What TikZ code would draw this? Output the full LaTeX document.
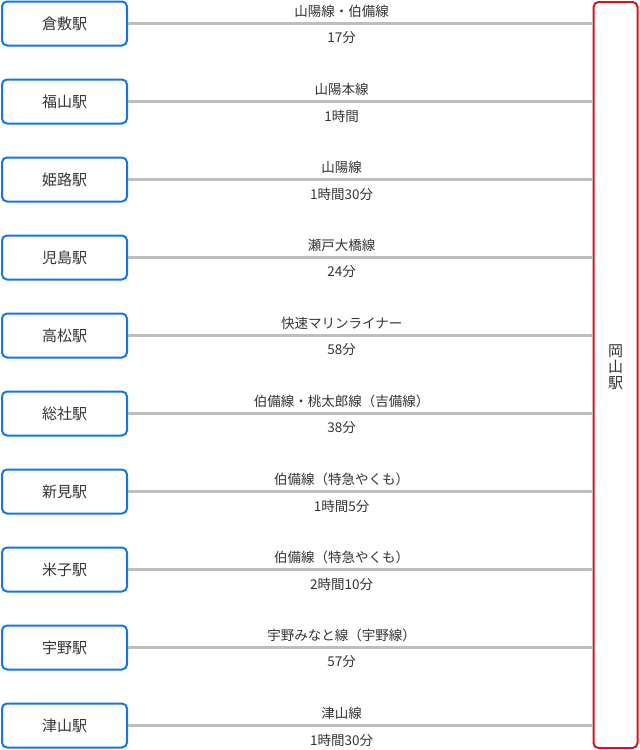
\documentclass[tikz,border=0pt]{standalone}
\usepackage{fontspec}
\newfontfamily\jpfont{Noto Sans CJK JP}
\usetikzlibrary{positioning}
\definecolor{stblue}{RGB}{20,118,226}
\definecolor{stred}{RGB}{214,20,28}
\definecolor{lngray}{RGB}{190,190,190}
\definecolor{txgray}{RGB}{51,51,51}
\tikzset{
    station/.style = {rectangle, rounded corners=5pt, line width=2pt, draw=stblue, minimum width=125pt, minimum height=44pt, text=txgray, font=\jpfont\fontsize{15}{18}\selectfont},
    hub/.style = {rectangle, rounded corners=5pt, line width=2pt, draw=stred, minimum width=44pt, minimum height=746pt, text=txgray},
    hubtext/.style = {align=center, text=txgray, font=\jpfont\fontsize{15}{16}\selectfont},
    line/.style = {line width=3pt, lngray},
    route/.style = {pos=0.46, above=1pt, text=txgray, font=\jpfont\fontsize{13.5}{15}\selectfont},
    time/.style = {pos=0.46, below=3.5pt, text=txgray, font=\jpfont\fontsize{13.5}{15}\selectfont}
}
\begin{document}
\begin{tikzpicture}[x=1pt,y=-1pt]
\useasboundingbox (0,0) rectangle (640,750);
%
\node[station] at (64.5, 23.5) (kurashiki) {倉敷駅};
\node[station] at (64.5,101.5) (fukuyama) {福山駅};
\node[station] at (64.5,179.5) (himeji) {姫路駅};
\node[station] at (64.5,257.5) (kojima) {児島駅};
\node[station] at (64.5,335.5) (takamatsu) {高松駅};
\node[station] at (64.5,413.5) (soja) {総社駅};
\node[station] at (64.5,491.5) (niimi) {新見駅};
\node[station] at (64.5,569.5) (yonago) {米子駅};
\node[station] at (64.5,647.5) (uno) {宇野駅};
\node[station] at (64.5,725.5) (tsuyama) {津山駅};
\node[hub] at (615.5,375) (okayama) {};
\node[hubtext] at (615.5,367) (okayamalabel) {岡\\山\\駅};
%
\draw[line] (kurashiki.east) -- (kurashiki.east -| okayama.west) node[route] {山陽線・伯備線} node[time] {17分};
\draw[line] (fukuyama.east) -- (fukuyama.east -| okayama.west) node[route] {山陽本線} node[time] {1時間};
\draw[line] (himeji.east) -- (himeji.east -| okayama.west) node[route] {山陽線} node[time] {1時間30分};
\draw[line] (kojima.east) -- (kojima.east -| okayama.west) node[route] {瀬戸大橋線} node[time] {24分};
\draw[line] (takamatsu.east) -- (takamatsu.east -| okayama.west) node[route] {快速マリンライナー} node[time] {58分};
\draw[line] (soja.east) -- (soja.east -| okayama.west) node[route] {伯備線・桃太郎線（吉備線）} node[time] {38分};
\draw[line] (niimi.east) -- (niimi.east -| okayama.west) node[route] {伯備線（特急やくも）} node[time] {1時間5分};
\draw[line] (yonago.east) -- (yonago.east -| okayama.west) node[route] {伯備線（特急やくも）} node[time] {2時間10分};
\draw[line] (uno.east) -- (uno.east -| okayama.west) node[route] {宇野みなと線（宇野線）} node[time] {57分};
\draw[line] (tsuyama.east) -- (tsuyama.east -| okayama.west) node[route] {津山線} node[time] {1時間30分};
\end{tikzpicture}
\end{document}
